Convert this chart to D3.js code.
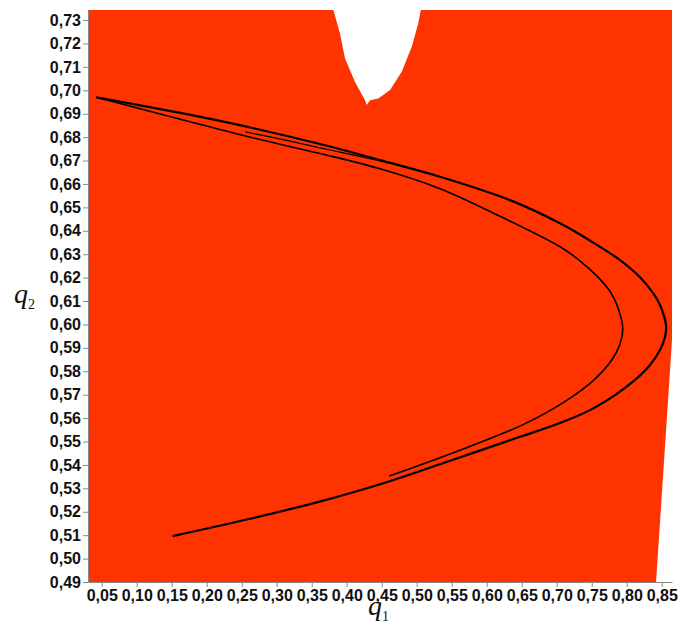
<!DOCTYPE html>
<html>
<head>
<meta charset="utf-8">
<script src="https://cdn.jsdelivr.net/npm/d3@7"></script>
<style>
  body { margin: 0; background: #fff; }
  .tick text { font-family: "Liberation Sans", Arial, sans-serif; font-weight: bold; font-size: 16px; fill: #111; }
  .axis path, .axis line { stroke: #8a8a8a; }
  .title { font-family: "Liberation Serif", "Times New Roman", serif; font-style: italic; fill: #111; }
</style>
</head>
<body>
<svg width="688" height="629"></svg>
<script>
let width = 688;
let height = 629;

let xTicks = [0.05, 0.10, 0.15, 0.20, 0.25, 0.30, 0.35, 0.40, 0.45, 0.50, 0.55, 0.60, 0.65, 0.70, 0.75, 0.80, 0.85];
let yTicks = [0.49, 0.50, 0.51, 0.52, 0.53, 0.54, 0.55, 0.56, 0.57, 0.58, 0.59, 0.60, 0.61,
              0.62, 0.63, 0.64, 0.65, 0.66, 0.67, 0.68, 0.69, 0.70, 0.71, 0.72, 0.73];

// outer strand: tip -> upper path -> outer turn -> long lower tail
let outerBranch = [
  [0.0423, 0.6970], [0.1733, 0.6897], [0.2686, 0.6837], [0.3733, 0.6762], [0.4476, 0.6702],
  [0.5333, 0.6631], [0.6333, 0.6531], [0.7047, 0.6432], [0.7476, 0.6358], [0.7904, 0.6275],
  [0.8190, 0.6202], [0.8380, 0.6133], [0.8476, 0.6083], [0.8561, 0.5997], [0.8547, 0.5946],
  [0.8476, 0.5891], [0.8333, 0.5827], [0.8119, 0.5763], [0.7833, 0.5698], [0.7476, 0.5634],
  [0.7047, 0.5579], [0.6476, 0.5520], [0.5476, 0.5418], [0.4523, 0.5322], [0.3571, 0.5240],
  [0.2619, 0.5170], [0.1514, 0.5096]
];
// inner strand: tip -> lower path -> inner turn -> short tail
let innerBranch = [
  [0.0423, 0.6970], [0.1733, 0.6868], [0.2686, 0.6795], [0.3619, 0.6730], [0.4476, 0.6665],
  [0.5333, 0.6580], [0.6190, 0.6462], [0.7047, 0.6332], [0.7319, 0.6275], [0.7590, 0.6202],
  [0.7780, 0.6133], [0.7876, 0.6070], [0.7943, 0.5985], [0.7899, 0.5912], [0.7786, 0.5848],
  [0.7533, 0.5763], [0.7150, 0.5677], [0.6504, 0.5570], [0.5476, 0.5447], [0.4609, 0.5353]
];
// extra faint strand between the two upper paths
let middleStrand = [
  [0.2547, 0.6823], [0.3190, 0.6783], [0.3761, 0.6745], [0.4333, 0.6708], [0.4761, 0.6678]
];

// white (outside) zones
let topHole = [
  [0.3809, 0.7343], [0.3904, 0.7243], [0.3976, 0.7136], [0.4119, 0.7036], [0.4261, 0.6958],
  [0.4286, 0.6937], [0.4333, 0.6958], [0.4451, 0.6965], [0.4619, 0.7001], [0.4786, 0.7079],
  [0.4929, 0.7186], [0.5023, 0.7286], [0.5057, 0.7343]
];
let rightGap = [[0.8647, 0.5933], [0.8419, 0.49], [0.8647, 0.49]];

let x = d3.scaleLinear().domain([0.0304, 0.8647]).range([88, 672]);
let y = d3.scaleLinear().domain([0.49, 0.7343]).range([582, 10]);

let svg = d3.select('svg');
let fmt = d => d3.format('.2f')(d).replace('.', ',');

svg.append('rect')
  .attr('x', x.range()[0])
  .attr('y', y.range()[1])
  .attr('width', x.range()[1] - x.range()[0])
  .attr('height', y.range()[0] - y.range()[1])
  .attr('fill', '#ff3300')
  ;

let area = d3.line().x(d => x(d[0])).y(d => y(d[1]));

svg.selectAll('.gap')
  .data([topHole, rightGap])
  .enter()
    .append('path')
    .attr('class', 'gap')
    .attr('d', d => area(d) + 'Z')
    .attr('fill', '#fff')
  ;

let curve = d3.line()
  .x(d => x(d[0]))
  .y(d => y(d[1]))
  .curve(d3.curveCatmullRom.alpha(0.5));

svg.append('g')
  .selectAll('path')
  .data([
    { pts: outerBranch, w: 2.2 },
    { pts: innerBranch, w: 1.6 },
    { pts: middleStrand, w: 1.2 }
  ])
  .enter()
    .append('path')
    .attr('d', d => curve(d.pts))
    .attr('fill', 'none')
    .attr('stroke', '#000')
    .attr('stroke-width', d => d.w)
  ;

svg.append('g')
  .attr('class', 'axis')
  .attr('transform', 'translate(0,' + y.range()[0] + ')')
  .call(d3.axisBottom(x).tickValues(xTicks).tickFormat(fmt).tickSize(5).tickSizeOuter(0).tickPadding(3))
  ;

svg.append('g')
  .attr('class', 'axis')
  .attr('transform', 'translate(' + x.range()[0] + ',0)')
  .call(d3.axisLeft(y).tickValues(yTicks).tickFormat(fmt).tickSize(5).tickSizeOuter(0).tickPadding(2))
  ;

svg.selectAll('.domain').attr('stroke', '#8a8a8a');

// axis titles
let t1 = svg.append('text').attr('class', 'title').attr('x', 368).attr('y', 615).attr('font-size', 28);
t1.append('tspan').text('q');
t1.append('tspan').attr('font-size', 14).attr('font-style', 'normal').attr('dy', 6).text('1');

let t2 = svg.append('text').attr('class', 'title').attr('x', 14).attr('y', 303).attr('font-size', 28);
t2.append('tspan').text('q');
t2.append('tspan').attr('font-size', 14).attr('font-style', 'normal').attr('dy', 6).text('2');
</script>
</body>
</html>
